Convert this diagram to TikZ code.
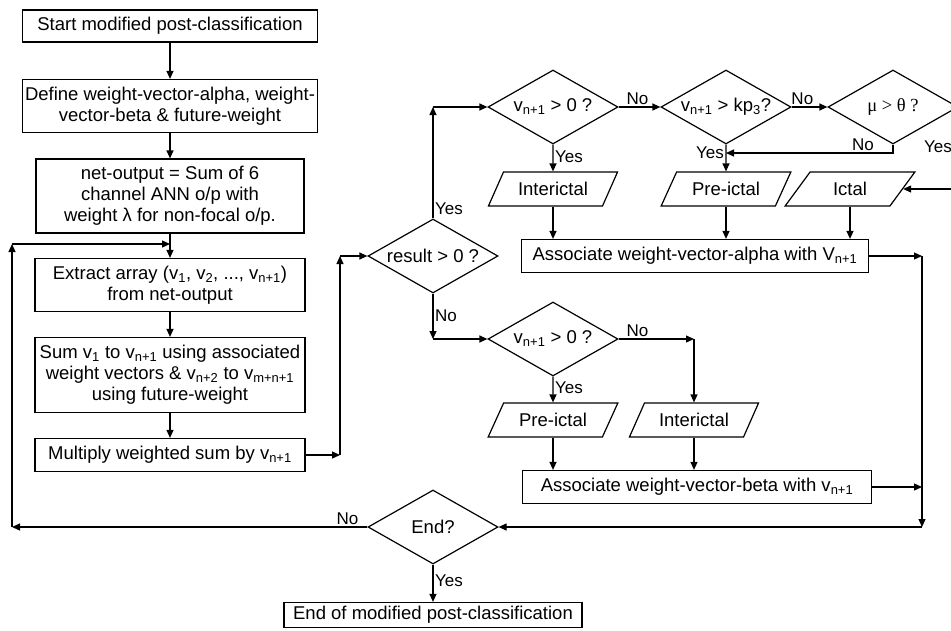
\documentclass[tikz,border=0pt]{standalone}
\usepackage{fontspec}
\setmainfont{Liberation Sans}
\newfontfamily\mufont{Liberation Serif}
\usetikzlibrary{shapes.geometric,arrows.meta,positioning}
\newcommand{\vsub}[1]{v\textsubscript{#1}}

\begin{document}
\begin{tikzpicture}[x=1pt,y=-1pt,on grid,line width=1.2pt,>={Triangle[length=8pt,width=7pt]},font=\fontsize{18.5}{21}\selectfont]
 \tikzstyle{proc}=[draw,rectangle,align=center,inner sep=2pt]
 \tikzstyle{dec}=[draw,diamond,minimum width=130pt,minimum height=74pt,inner sep=0pt]
 \tikzstyle{io}=[draw,trapezium,trapezium left angle=52,trapezium right angle=128,trapezium stretches=true,minimum width=130pt,minimum height=34pt,inner sep=0pt]
 \tikzstyle{lbl}=[font=\fontsize{17}{20}\selectfont,inner sep=1.5pt]

\useasboundingbox (0,0) rectangle (951,630);

% left column
\node[proc,minimum width=295pt,minimum height=32pt] (start) at (170,26) {Start modified post-classification};
\node[proc,minimum width=295pt,minimum height=53pt] (define) [below=80pt of start] {Define weight-vector-alpha, weight-\\vector-beta \& future-weight};
\node[proc,minimum width=268pt,minimum height=74pt] (net) [below=90pt of define] {net-output = Sum of 6\\channel ANN o/p with\\weight λ for non-focal o/p.};
\node[proc,minimum width=270pt,minimum height=53pt] (extract) [below=89pt of net] {Extract array (\vsub{1}, \vsub{2}, ..., \vsub{n+1})\\from net-output};
\node[proc,minimum width=270pt,minimum height=75pt] (sum) [below=90pt of extract] {Sum \vsub{1} to \vsub{n+1} using associated\\weight vectors \& \vsub{n+2} to \vsub{m+n+1}\\using future-weight};
\node[proc,minimum width=270pt,minimum height=33pt] (mult) [below=80pt of sum] {Multiply weighted sum by \vsub{n+1}};

% decisions
\node[dec,label=center:{result > 0 ?}] (result) [above right=199pt and 263pt of mult] {};
\node[dec,label=center:{\vsub{n+1} > 0 ?}] (vtop) [above right=149pt and 120pt of result] {};
\node[dec,label=center:{\vsub{n+1} > kp\textsubscript{3}?}] (kp) [right=173pt of vtop] {};
\node[dec,label=center:{\mufont μ > θ ?}] (mu) [right=167pt of kp] {};
\node[dec,label=center:{\vsub{n+1} > 0 ?}] (vlow) [below right=83pt and 120pt of result] {};
\node[dec,label=center:{End?}] (endd) [below=271pt of result] {};

% outputs
\node[io] (intltop) [below=82pt of vtop] {Interictal};
\node[io] (pretop) [below=82pt of kp] {Pre-ictal};
\node[io] (ictal) [right=124pt of pretop] {Ictal};
\node[io] (prelow) [below=81pt of vlow] {Pre-ictal};
\node[io] (intllow) [right=141pt of prelow] {Interictal};

\node[proc,minimum width=347pt,minimum height=33pt] (alpha) [below right=67pt and 142pt of intltop] {Associate weight-vector-alpha with V\textsubscript{n+1}};
\node[proc,minimum width=349pt,minimum height=33pt] (beta) [below right=67pt and 144pt of prelow] {Associate weight-vector-beta with \vsub{n+1}};
\node[proc,minimum width=298pt,minimum height=25pt,inner sep=1pt] (endbox) [below=88pt of endd] {End of modified post-classification};

\coordinate (j1) at (340,455);
\coordinate (j2) at (340,256);
\coordinate (j5) at (893,153);
\coordinate (j6) at (970,107);
\coordinate (j11) at (922,527);
\coordinate (j12) at (12,527);
\coordinate (j13) at (12,244);

\path[->] (start) edge (define);
\path[->] (define) edge (net);
\path[->] (net) edge (extract);
\path[->] (extract) edge (sum);
\path[->] (sum) edge (mult);

\draw[->] (mult.east) -- (j1);
\draw[->] (j1) -- (j2);
\draw[->] (j2) -- (result.west);

\draw[->] (result.north) -- node[lbl,pos=0.09,anchor=west] {Yes} (result.north |- vtop.west);
\draw[->] (result.north |- vtop.west) -- (vtop.west);
\draw[->] (vtop.south) -- node[lbl,pos=0.45,anchor=west] {Yes} (intltop.north);
\draw[->] (vtop.east) -- node[lbl,pos=0.45,anchor=south] {No} (kp.west);
\draw[->] (kp.south) -- node[lbl,pos=0.3,anchor=east] {Yes} (pretop.north);
\draw[->] (kp.east) -- node[lbl,pos=0.3,anchor=south] {No} (mu.west);
\draw[->] (mu.south) -- (j5) -- node[lbl,pos=0.18,anchor=south] {No} (kp.south |- j5);
\draw[->] (mu.east) -- (j6) |- (ictal.east);
\node[lbl] (muyes) at (938,147) {Yes};

\draw[->] (intltop.south) -- (intltop.south |- alpha.north);
\draw[->] (pretop.south) -- (pretop.south |- alpha.north);
\draw[->] (ictal.south) -- (ictal.south |- alpha.north);

\draw[->] (result.south) -- node[lbl,pos=0.48,anchor=west] {No} (result.south |- vlow.west);
\draw[->] (result.south |- vlow.west) -- (vlow.west);
\draw[->] (vlow.south) -- node[lbl,pos=0.45,anchor=west] {Yes} (prelow.north);
\draw[->] (vlow.east) -- node[lbl,pos=0.25,anchor=south] {No} (intllow.north |- vlow.east);
\draw[->] (intllow.north |- vlow.east) -- (intllow.north);
\draw[->] (prelow.south) -- (prelow.south |- beta.north);
\draw[->] (intllow.south) -- (intllow.south |- beta.north);

% back to End?
\draw[->] (alpha.east) -- (alpha.east -| j11);
\draw[->] (alpha.east -| j11) -- (j11);
\draw[->] (beta.east) -- (beta.east -| j11);
\draw[->] (j11) -- (endd.east);

\draw[->] (endd.west) -- node[lbl,pos=0.056,anchor=south] {No} (j12);
\draw[->] (j12) -- (j13);
\draw[->] (j13) -- (net.south |- j13);
\draw[->] (endd.south) -- node[lbl,pos=0.43,anchor=west] {Yes} (endbox.north);

\end{tikzpicture}
\end{document}
